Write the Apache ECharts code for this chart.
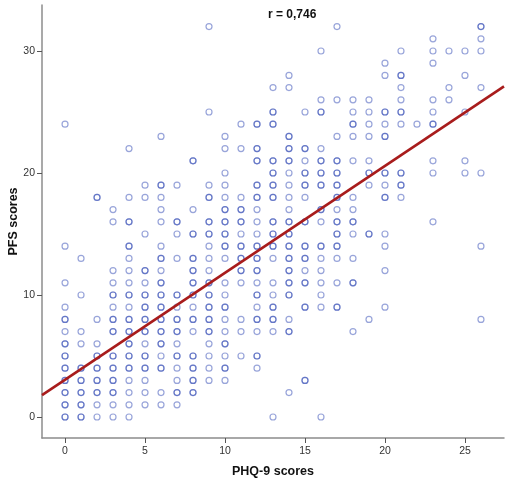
<!DOCTYPE html>
<html lang="en">
<head>
    <meta charset="UTF-8">
    <title>PFS vs PHQ-9</title>
    <style>
        html, body { margin: 0; padding: 0; background: #fff; }
        #chart { width: 514px; height: 480px; }
    </style>
    <script src="https://cdn.jsdelivr.net/npm/echarts@6/dist/echarts.min.js"></script>
</head>
<body>
<div id="chart"></div>
<script type="text/javascript">
    // PHQ-9 values seen at each PFS score, index = PFS score.
    // a repeated value means overlapping answers (the ring looks darker)
    var pfs0 = [0,0,1,1,2,3,4,13,16];
    var pfs1 = [0,0,1,1,2,3,4,5,6,7];
    var pfs2 = [0,0,1,1,2,2,3,3,4,5,6,7,7,8,8,14];
    var pfs3 = [0,0,1,1,2,2,3,3,4,5,7,8,8,9,10,15,15];
    var pfs4 = [0,0,1,1,2,2,3,3,4,4,5,5,6,6,7,8,8,9,10,10,12];
    var pfs5 = [0,0,2,2,3,3,4,4,5,5,6,7,7,8,8,9,10,11,12,12];
    var pfs6 = [0,0,1,2,4,4,5,6,6,7,9,10,10];
    var pfs7 = [0,1,3,3,4,4,5,5,6,6,7,7,8,9,9,10,11,12,13,14,14,18];
    var pfs8 = [0,0,2,3,3,4,4,5,5,6,6,7,7,8,8,9,9,10,11,12,12,13,13,14,19,26];
    var pfs9 = [0,3,4,5,5,6,6,7,8,9,9,10,10,12,13,13,15,15,16,17,17,20];
    var pfs10 = [1,3,3,4,4,5,5,6,6,7,7,8,8,9,9,10,12,12,13,14,14,16];
    var pfs11 = [0,3,4,5,6,6,8,8,9,9,10,11,12,13,14,14,15,15,16,17,18,18];
    var pfs12 = [3,4,5,5,6,8,8,9,11,11,12,12,14,14,15,16,20];
    var pfs13 = [1,4,6,6,7,8,8,9,10,11,11,12,12,13,14,14,15,15,16,17,18];
    var pfs14 = [0,4,4,6,9,10,10,11,11,12,12,13,13,14,14,15,15,16,16,17,17,20,26];
    var pfs15 = [5,7,8,8,9,9,10,10,11,12,13,13,14,14,17,17,18,19,19,20];
    var pfs16 = [3,4,4,6,7,7,9,9,10,10,11,11,12,13,13,14,14,15,15,16,17,17,18,18,23];
    var pfs17 = [3,6,8,10,10,11,11,12,14,16,16,17,18];
    var pfs18 = [2,2,4,5,6,9,9,10,11,12,12,13,13,14,15,17,17,18,20,20,21];
    var pfs19 = [5,6,6,7,9,10,12,12,13,13,14,15,15,16,16,17,17,19,20,21,21];
    var pfs20 = [10,13,13,14,15,15,16,16,17,17,19,19,20,20,21,21,23,25,26];
    var pfs21 = [8,8,12,12,13,13,14,14,15,16,16,17,17,18,19,23,25];
    var pfs22 = [4,10,11,12,12,14,14,15,15,16];
    var pfs23 = [6,10,14,14,17,18,19,20,20];
    var pfs24 = [0,11,12,12,13,13,18,18,19,20,21,22,23,23];
    var pfs25 = [9,13,13,15,16,16,18,19,20,20,21,21,23,25];
    var pfs26 = [16,17,18,19,21,23,24];
    var pfs27 = [13,14,21,24,26];
    var pfs28 = [14,20,21,21,25];
    var pfs29 = [20,23];
    var pfs30 = [16,21,23,24,25,26];
    var pfs31 = [23,26];
    var pfs32 = [9,17,26,26];

    var pfsRows = [pfs0,pfs1,pfs2,pfs3,pfs4,pfs5,pfs6,pfs7,pfs8,pfs9,pfs10,pfs11,pfs12,pfs13,pfs14,pfs15,
        pfs16,pfs17,pfs18,pfs19,pfs20,pfs21,pfs22,pfs23,pfs24,pfs25,pfs26,pfs27,pfs28,pfs29,pfs30,pfs31,pfs32];

    // fit line ends, read where it meets the plot edges
    var fitX = [-1.44, 27.44];
    var fitY = [1.8, 27.1];

    var xTicks = [0, 5, 10, 15, 20, 25];
    var yTicks = [0, 10, 20, 30];

    var points = [];
    pfsRows.forEach(function (row, score) {
        row.forEach(function (phq) {
            points.push([phq, score]);
        });
    });

    var axisGrey = '#8c8c8c';
    var font = '"Liberation Sans", Arial, sans-serif';

    var chart = echarts.init(document.getElementById('chart'));
    chart.setOption({
        animation: false,
        backgroundColor: '#fff',
        textStyle: { fontFamily: font },
        title: {
            text: 'r = 0,746',
            left: 263,
            top: 4,
            textStyle: { fontFamily: font, fontSize: 12, fontWeight: 'bold', color: '#111' }
        },
        grid: { left: 42, right: 10, top: 5, bottom: 42, outerBoundsMode: 'none' },
        xAxis: {
            type: 'value',
            min: -1.44,
            max: 27.44,
            name: 'PHQ-9 scores',
            nameLocation: 'middle',
            nameGap: 27,
            nameTextStyle: { fontFamily: font, fontSize: 12.5, fontWeight: 'bold', color: '#111' },
            splitLine: { show: false },
            axisLine: { onZero: false, lineStyle: { color: axisGrey, width: 1.5 } },
            axisTick: { customValues: xTicks, length: 5, lineStyle: { color: '#555', width: 1 } },
            axisLabel: { customValues: xTicks, margin: 8, fontSize: 10.5, color: '#333' }
        },
        yAxis: {
            type: 'value',
            min: -1.72,
            max: 33.77,
            name: 'PFS scores',
            nameLocation: 'middle',
            nameGap: 22,
            nameMoveOverlap: false,
            nameTextStyle: { fontFamily: font, fontSize: 12.5, fontWeight: 'bold', color: '#111' },
            splitLine: { show: false },
            axisLine: { onZero: false, lineStyle: { color: axisGrey, width: 1.5 } },
            axisTick: { customValues: yTicks, length: 5, lineStyle: { color: '#555', width: 1 } },
            axisLabel: { customValues: yTicks, margin: 7, fontSize: 10.5, color: '#333' }
        },
        series: [
            {
                type: 'scatter',
                data: points,
                symbol: 'circle',
                symbolSize: 6,
                itemStyle: {
                    color: 'transparent',
                    borderColor: 'rgba(48,72,180,0.62)',
                    borderWidth: 1.2
                }
            },
            {
                type: 'line',
                data: [[fitX[0], fitY[0]], [fitX[1], fitY[1]]],
                symbol: 'none',
                lineStyle: { color: '#a81c1c', width: 2.6 }
            }
        ]
    });
</script>
</body>
</html>
